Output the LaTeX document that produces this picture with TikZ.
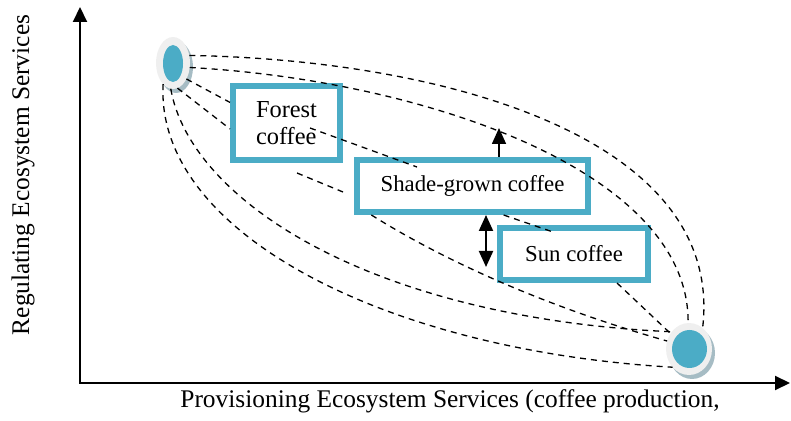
\documentclass[tikz,border=0pt]{standalone}
\usepackage{fontspec}
\setmainfont{Liberation Serif}
\usetikzlibrary{arrows.meta,shapes.geometric}

\definecolor{coffeeblue}{HTML}{4BACC6}
\definecolor{rimgrey}{HTML}{EFEFEF}
\definecolor{rimshadow}{HTML}{A6BCC4}

\tikzset{
  coffeebox/.style={draw=coffeeblue, line width=3pt, fill=white, inner sep=0pt,
    font=\fontsize{11.4}{13.5}\selectfont},
  tradeoff/.style={dash pattern=on 3pt off 2.5pt, line width=0.65pt},
  axis/.style={line width=1pt, {Triangle[length=7.5pt,width=7pt]}-{Triangle[length=7.5pt,width=7pt]}},
  shiftup/.style={line width=0.8pt, -{Triangle[length=8pt,width=7pt]}},
  shiftboth/.style={line width=1pt, {Triangle[length=8pt,width=7pt]}-{Triangle[length=8pt,width=7pt]}},
  rim/.style={ellipse, fill=rimgrey, inner sep=0pt, outer sep=0pt},
  rimshade/.style={ellipse, fill=rimshadow, inner sep=0pt, outer sep=0pt},
  coin/.style={ellipse, fill=coffeeblue, inner sep=0pt, outer sep=0pt},
  axislabel/.style={font=\fontsize{12.7}{15}\selectfont, inner sep=0pt}
}

\begin{document}
\begin{tikzpicture}[x=0.5pt, y=-0.5pt]
  \useasboundingbox (0,0) rectangle (791,421);

  %% axes
  \coordinate (origin) at (80,383);
  \coordinate (ytip) at (80,7);
  \coordinate (xtip) at (790,383);
  \draw[axis] (ytip) -- (origin) -- (xtip);

  \node[axislabel, rotate=90, anchor=base] (ylab) at (29,175) {Regulating Ecosystem Services};
  \node[axislabel, anchor=base] (xlab) at (450,408) {Provisioning Ecosystem Services (coffee production,};

  %% end points
  \node[rimshade, minimum width=17pt, minimum height=26pt] (tlshadow) at (176,67) {};
  \node[rim, minimum width=17pt, minimum height=26pt] (tlrim) at (173,63) {};
  \node[coin, minimum width=10pt, minimum height=18.5pt] (tl) at (173,63.5) {};

  \node[rimshade, minimum width=23pt, minimum height=26pt] (brshadow) at (692,353) {};
  \node[rim, minimum width=23pt, minimum height=26pt] (brrim) at (689,349) {};
  \node[coin, minimum width=17.5pt, minimum height=19pt] (br) at (689.5,349) {};

  %% boxes
  \node[coffeebox, minimum width=53.5pt, minimum height=37pt, align=left,
    font=\fontsize{12.2}{13.5}\selectfont] (forest) at (286.5,123) {Forest\\coffee};
  \node[coffeebox, minimum width=115.5pt, minimum height=26pt] (shade) at (472.5,186) {Shade-grown coffee};
  \node[coffeebox, minimum width=74pt, minimum height=26pt] (sun) at (574,254) {Sun coffee};

  %% outer curves
  \draw[tradeoff] (tlrim.25) .. controls (450,60) and (725,140) .. (brrim.57);
  \draw[tradeoff] (tlrim.-15) .. controls (420,80) and (690,170) .. (brrim.92);
  \draw[tradeoff] (tlrim.-115) .. controls (155,230) and (380,350) .. (brrim.228);
  \draw[tradeoff] (tlrim.-95) .. controls (190,200) and (370,318) .. (brrim.135);

  %% lines through the boxes
  \coordinate (forestin) at (310,128);
  \coordinate (shadein) at (417,167);
  \coordinate (gapa) at (297,173);
  \coordinate (gapb) at (343,192);
  \coordinate (sunin) at (553,232);

  \draw[tradeoff] (tlrim.-50) -- (forest.160);
  \draw[tradeoff] (tlrim.-80) -- (forest.186);
  \draw[tradeoff] (forestin) -- (shadein);
  \draw[tradeoff] (gapa) -- (gapb);
  \draw[tradeoff] (shade.196) .. controls (440,258) and (540,305) .. (brrim.160);
  \draw[tradeoff] (shade.-43.6) -- (sunin);
  \draw[tradeoff] (sun.-34) -- (brrim.140);

  %% shifts
  \coordinate (uptip) at (499,128);
  \coordinate (dbltip) at (486,267);
  \draw[shiftup] (shade.north -| uptip) -- (uptip);
  \draw[shiftboth] (shade.south -| dbltip) -- (dbltip);

\end{tikzpicture}
\end{document}
